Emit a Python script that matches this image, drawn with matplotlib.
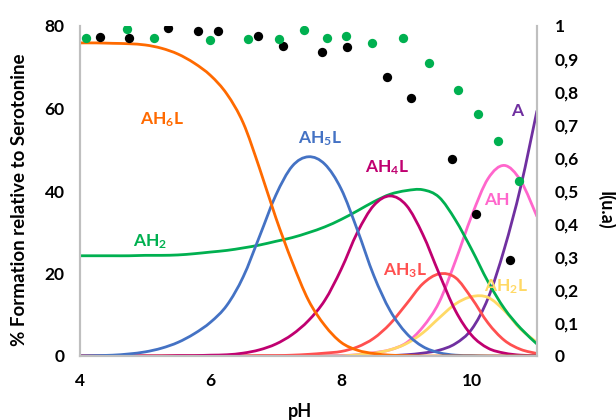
import matplotlib
matplotlib.use("Agg")
import matplotlib.pyplot as plt
from matplotlib.path import Path
from matplotlib.patches import PathPatch

plt.rcParams['font.family'] = ['Lato', 'DejaVu Sans']
plt.rcParams['mathtext.fontset'] = 'custom'
plt.rcParams['mathtext.rm'] = 'Lato:bold'
plt.rcParams['mathtext.it'] = 'Lato:bold'
plt.rcParams['mathtext.bf'] = 'Lato:bold'

# pH grid the species curves were read at
ph = [4, 4.25, 4.5, 4.75, 5, 5.25, 5.5, 5.75, 6, 6.25, 6.5, 6.75, 7, 7.25, 7.5,
      7.75, 8, 8.25, 8.5, 8.75, 9, 9.25, 9.5, 9.75, 10, 10.25, 10.5, 10.75, 11]

# % formation relative to serotonine (left axis)
ah6l = [75.9, 75.9, 75.8, 75.7, 75.4, 74.6, 73.2, 71.0, 68.0, 63.5, 56.5, 45.5, 33.5, 22.8, 13.5,
        7.4, 3.3, 1.4, 0.6, 0.2, 0.1, 0, 0, 0, 0, 0, 0, 0, 0]
ah5l = [0, 0.1, 0.2, 0.5, 1.0, 1.9, 3.3, 5.4, 8.2, 12.3, 19.2, 29.0, 39.0, 46.0, 48.3,
        46.5, 40.5, 30.5, 19.5, 11.0, 5.5, 2.3, 0.8, 0.2, 0.1, 0, 0, 0, 0]
ah4l = [0, 0, 0, 0, 0, 0, 0.1, 0.1, 0.2, 0.3, 0.7, 1.5, 2.9, 5.2, 8.6,
        13.5, 21.0, 30.0, 36.5, 38.8, 36.5, 29.5, 20.0, 11.0, 5.0, 1.9, 0.7, 0.2, 0.1]
ah2 = [24.3, 24.3, 24.3, 24.3, 24.4, 24.4, 24.5, 24.8, 25.2, 25.6, 26.2, 26.9, 27.8, 28.7, 29.9,
       31.3, 33.1, 35.2, 37.4, 39.2, 40.1, 40.3, 38.5, 33.0, 25.8, 18.0, 11.5, 6.7, 2.9]
ah3l = [0, 0, 0, 0, 0, 0, 0, 0, 0, 0, 0, 0.1, 0.1, 0.2, 0.4,
        0.7, 1.1, 2.2, 4.3, 7.8, 12.6, 17.5, 19.9, 19.0, 14.0, 8.0, 3.8, 1.6, 0.6]
ah2l = [0, 0, 0, 0, 0, 0, 0, 0, 0, 0, 0, 0, 0, 0, 0,
        0, 0, 0.3, 0.7, 1.5, 3.0, 5.6, 9.2, 12.6, 14.4, 14.2, 11.0, 6.5, 3.3]
ah = [0, 0, 0, 0, 0, 0, 0, 0, 0, 0, 0, 0, 0, 0, 0,
      0, 0.1, 0.3, 0.8, 1.5, 3.2, 7.0, 13.0, 23.0, 34.0, 43.0, 46.2, 42.5, 33.8]
a = [0, 0, 0, 0, 0, 0, 0, 0, 0, 0, 0, 0, 0, 0, 0,
     0, 0, 0, 0, 0.1, 0.3, 0.7, 1.4, 3.0, 6.5, 14.0, 26.0, 41.0, 59.5]

# intensity points (right axis)
green_ph = [4.09, 4.72, 5.14, 5.99, 6.57, 7.05, 7.43, 7.78, 8.08, 8.48, 8.94, 9.35, 9.79, 10.10, 10.40, 10.72]
green_i = [0.965, 0.990, 0.965, 0.958, 0.961, 0.961, 0.988, 0.965, 0.970, 0.949, 0.963, 0.888, 0.807, 0.732, 0.652, 0.530]
black_ph = [4.31, 4.75, 5.35, 5.81, 6.11, 6.72, 7.11, 7.71, 8.09, 8.70, 9.07, 9.70, 10.07, 10.58]
black_i = [0.966, 0.965, 0.995, 0.984, 0.986, 0.969, 0.939, 0.920, 0.935, 0.845, 0.782, 0.597, 0.431, 0.291]

x_ticks = [4, 6, 8, 10]
left_ticks = [0, 20, 40, 60, 80]
right_ticks = [0, 0.1, 0.2, 0.3, 0.4, 0.5, 0.6, 0.7, 0.8, 0.9, 1]
right_labels = ['0', '0,1', '0,2', '0,3', '0,4', '0,5', '0,6', '0,7', '0,8', '0,9', '1']

# (series, colour, label text, label pH, label value)
species = [
    (a, '#7030A0', 'A', 10.70, 59.5),
    (ah, '#FF66CC', 'AH', 10.38, 37.8),
    (ah2l, '#FFD966', 'AH$_2$L', 10.53, 16.8),
    (ah3l, '#FF5050', 'AH$_3$L', 8.98, 20.8),
    (ah2, '#00B050', 'AH$_2$', 5.07, 27.6),
    (ah4l, '#C00070', 'AH$_4$L', 8.70, 45.6),
    (ah5l, '#4472C4', 'AH$_5$L', 7.67, 52.8),
    (ah6l, '#FF6A00', 'AH$_6$L', 5.25, 57.3),
]


def smooth_path(xs, ys):
    # Excel-like "smoothed line": Catmull-Rom segments drawn as cubic Beziers
    pts = list(zip(xs, ys))
    verts = [pts[0]]
    codes = [Path.MOVETO]
    n = len(pts)
    for i in range(n - 1):
        p0 = pts[i - 1] if i > 0 else pts[i]
        p1 = pts[i]
        p2 = pts[i + 1]
        p3 = pts[i + 2] if i + 2 < n else pts[i + 1]
        c1 = (p1[0] + (p2[0] - p0[0]) / 6, p1[1] + (p2[1] - p0[1]) / 6)
        c2 = (p2[0] - (p3[0] - p1[0]) / 6, p2[1] - (p3[1] - p1[1]) / 6)
        verts += [c1, c2, p2]
        codes += [Path.CURVE4] * 3
    return Path(verts, codes)


fig = plt.figure(figsize=(6.16, 4.2), dpi=100)
ax = fig.add_axes([80 / 616, 64 / 420, 457 / 616, 330 / 420])
ax2 = ax.twinx()

for vals, col, lab, lx, ly in species:
    ax.add_patch(PathPatch(smooth_path(ph, vals), fill=False, edgecolor=col, lw=2))
    ax.text(lx, ly, lab, color=col, fontsize=12.5, fontweight='bold', ha='center', va='center')

ax2.scatter(black_ph, black_i, s=45, color='black', zorder=3, linewidths=0)
ax2.scatter(green_ph, green_i, s=45, color='#00B050', zorder=4, linewidths=0)

ax.set_xlim(4, 11)
ax.set_ylim(0, 80)
ax2.set_ylim(0, 1)

ax.set_xticks(x_ticks)
ax.set_yticks(left_ticks)
ax2.set_yticks(right_ticks)
ax2.set_yticklabels(right_labels)

for axis in (ax, ax2):
    for side in axis.spines:
        axis.spines[side].set_color('#BFBFBF')
        axis.spines[side].set_linewidth(1.5)
    axis.spines['top'].set_visible(False)
    for lbl in axis.get_xticklabels() + axis.get_yticklabels():
        lbl.set_fontweight('bold')
        lbl.set_fontsize(12.5)

ax.tick_params(axis='x', length=0, pad=12)
ax.tick_params(axis='y', length=0, pad=11)
ax2.tick_params(axis='y', length=0, pad=13)

fig.text(20 / 616, 0.524, '% Formation relative to Serotonine', rotation=90,
         ha='center', va='center', fontsize=13.5, fontweight='bold')
fig.text(300 / 616, 9 / 420, 'pH', ha='center', va='center', fontsize=13, fontweight='bold')
fig.text(606 / 616, 210 / 420, 'I(u.a)', rotation=270, ha='center', va='center',
         fontsize=13, fontweight='bold')

fig.savefig('out.png', dpi=100)
